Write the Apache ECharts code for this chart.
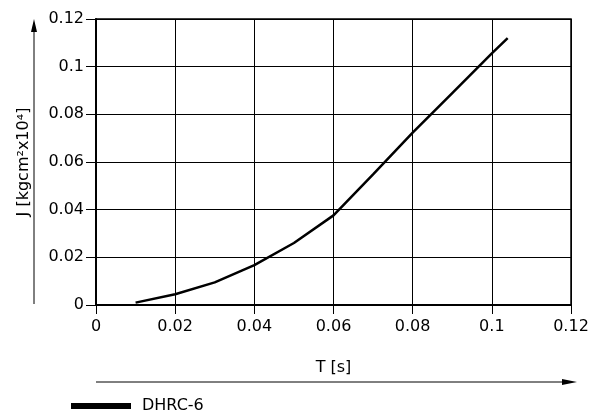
<!DOCTYPE html>
<html>
<head>
<meta charset="utf-8">
<script src="https://cdn.jsdelivr.net/npm/echarts@6/dist/echarts.min.js"></script>
<style>
html, body { margin: 0; padding: 0; background: #fff; }
#main { width: 597px; height: 416px; }
</style>
</head>
<body>
<div id="main"></div>
<script>
// 曲线数据
var timeValues = [0.01, 0.02, 0.03, 0.04, 0.05, 0.06, 0.07, 0.08, 0.09, 0.1, 0.104];
var inertiaValues = [0.001, 0.0045, 0.0095, 0.0167, 0.026, 0.0376, 0.0548, 0.0723, 0.0889, 0.1056, 0.112];
var seriesName = 'DHRC-6';
var xTitle = 'T [s]';
var yTitle = 'J [kgcm²x10⁴]';

var font = 'DejaVu Sans';
var points = [];
for (var i = 0; i < timeValues.length; i++) {
	points.push([timeValues[i], inertiaValues[i]]);
}
var fmt = function (v) {
	return String(+v.toFixed(2));
};

var chart = echarts.init(document.getElementById('main'), null, {renderer: 'canvas'});
var option = {
	animation: false,
	backgroundColor: '#fff',
	textStyle: { fontFamily: font },
	grid: {
		left: 96, right: 26, top: 19, bottom: 111,
		show: true,
		borderColor: '#000',
		borderWidth: 1.5
	},
	xAxis: {
		type: 'value',
		min: 0, max: 0.12, interval: 0.02,
		name: xTitle,
		nameLocation: 'middle',
		nameGap: 55,
		nameTextStyle: { color: '#000', fontSize: 16, fontFamily: font },
		axisLine: { show: true, onZero: false, lineStyle: { color: '#000', width: 2 } },
		axisTick: { show: true, length: 9, lineStyle: { color: '#000', width: 1 } },
		axisLabel: { color: '#000', fontSize: 16, margin: 14, formatter: fmt },
		splitLine: { show: true, lineStyle: { color: '#000', width: 1 } }
	},
	yAxis: {
		type: 'value',
		min: 0, max: 0.12, interval: 0.02,
		name: yTitle,
		nameLocation: 'middle',
		nameRotate: 90,
		nameGap: 64,
		nameTextStyle: { color: '#000', fontSize: 16, fontFamily: font },
		axisLine: { show: true, onZero: false, lineStyle: { color: '#000', width: 2 } },
		axisTick: { show: true, length: 10, lineStyle: { color: '#000', width: 1 } },
		axisLabel: { color: '#000', fontSize: 16, margin: 12, formatter: fmt },
		splitLine: { show: true, lineStyle: { color: '#000', width: 1 } }
	},
	legend: {
		left: 66,
		top: 393,
		itemWidth: 60,
		itemHeight: 6,
		itemGap: 10,
		icon: 'rect',
		data: [seriesName],
		textStyle: { color: '#000', fontSize: 16, fontFamily: font, padding: [0, 0, 0, 6] }
	},
	// 坐标轴方向箭头
	graphic: [{
		type: 'line',
		shape: { x1: 34, y1: 304, x2: 34, y2: 28 },
		style: { stroke: '#000', lineWidth: 1 }
	}, {
		type: 'polygon',
		shape: { points: [[31, 32], [34, 19], [37, 32]] },
		style: { fill: '#000' }
	}, {
		type: 'line',
		shape: { x1: 96, y1: 382, x2: 566, y2: 382 },
		style: { stroke: '#000', lineWidth: 1 }
	}, {
		type: 'polygon',
		shape: { points: [[562, 379], [577, 382], [562, 385]] },
		style: { fill: '#000' }
	}],
	series: [{
		name: seriesName,
		type: 'line',
		data: points,
		showSymbol: false,
		symbol: 'none',
		lineStyle: { color: '#000', width: 2.5 },
		itemStyle: { color: '#000' }
	}]
};
chart.setOption(option);
</script>
</body>
</html>
